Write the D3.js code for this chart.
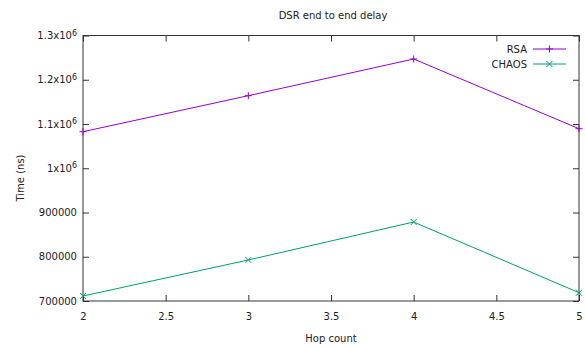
<!DOCTYPE html>
<html>
<head>
<meta charset="utf-8">
<script src="https://cdn.jsdelivr.net/npm/d3@7"></script>
<style>
  html, body { margin: 0; padding: 0; background: #fff; }
  svg { display: block; }
  text { font-family: "DejaVu Sans", Verdana, sans-serif; fill: #222; }
</style>
</head>
<body>
<svg id="chart" width="585" height="349"></svg>
<script>
// Hop counts on the x axis
const hops = [2, 3, 4, 5];
// End-to-end delay (ns) for each routing variant
const rsaDelay = [1082600, 1164000, 1246900, 1089400];
const chaosDelay = [711300, 792700, 878500, 718800];
// Axis ticks
const xTicks = [2, 2.5, 3, 3.5, 4, 4.5, 5];
const yTicks = [700000, 800000, 900000, 1000000, 1100000, 1200000, 1300000];

const series = [
  { name: "RSA", values: rsaDelay, color: "#9400d3", mark: "plus" },
  { name: "CHAOS", values: chaosDelay, color: "#009e73", mark: "cross" }
];

const svg = d3.select("#chart");
const m = { left: 83, right: 579, top: 35.5, bottom: 301 };

const x = d3.scaleLinear().domain([2, 5]).range([m.left, m.right]);
const y = d3.scaleLinear().domain([700000, 1300000]).range([m.bottom, m.top]);

// Y tick label: plain integers below a million, a x10^6 form above
function yLabel(sel) {
  sel.each(function(d) {
    const t = d3.select(this).text(null);
    if (d >= 1000000) {
      const mant = d / 1000000;
      const s = Number.isInteger(mant) ? "1" : mant.toFixed(1);
      t.append("tspan").text(s + "x10");
      t.append("tspan").attr("dy", "-0.45em").attr("font-size", "8px").text("6");
    } else {
      t.text(d);
    }
  });
}

// Bottom axis with inward ticks
const gx = svg.append("g").attr("transform", `translate(0,${m.bottom})`)
  .call(d3.axisBottom(x).tickValues(xTicks).tickSizeInner(-6).tickSizeOuter(0).tickPadding(12)
    .tickFormat(d3.format("")));
// Top mirror ticks
const gxt = svg.append("g").attr("transform", `translate(0,${m.top})`)
  .call(d3.axisTop(x).tickValues(xTicks).tickSizeInner(-6).tickSizeOuter(0).tickFormat(""));
// Left axis
const gy = svg.append("g").attr("transform", `translate(${m.left},0)`)
  .call(d3.axisLeft(y).tickValues(yTicks).tickSizeInner(-6).tickSizeOuter(0).tickPadding(6));
gy.selectAll(".tick text").call(yLabel);
// Right mirror ticks
const gyr = svg.append("g").attr("transform", `translate(${m.right},0)`)
  .call(d3.axisRight(y).tickValues(yTicks).tickSizeInner(-6).tickSizeOuter(0).tickFormat(""));

[gx, gxt, gy, gyr].forEach(g => {
  g.select(".domain").remove();
  g.selectAll(".tick line").attr("stroke", "#333");
  g.selectAll(".tick text").attr("font-size", "10px").attr("fill", "#222")
    .attr("font-family", "'DejaVu Sans', Verdana, sans-serif");
});

// Plot border
svg.append("rect")
  .attr("x", m.left).attr("y", m.top)
  .attr("width", m.right - m.left).attr("height", m.bottom - m.top)
  .attr("fill", "none").attr("stroke", "#333").attr("stroke-width", 1);

// Point markers
function drawMark(g, type, cx, cy, color) {
  const r = 3.5;
  if (type === "plus") {
    g.append("path").attr("d", `M${cx - r},${cy}H${cx + r}M${cx},${cy - r}V${cy + r}`)
      .attr("stroke", color).attr("stroke-width", 1).attr("fill", "none");
  } else {
    const q = 3;
    g.append("path").attr("d", `M${cx - q},${cy - q}L${cx + q},${cy + q}M${cx - q},${cy + q}L${cx + q},${cy - q}`)
      .attr("stroke", color).attr("stroke-width", 1).attr("fill", "none");
  }
}

const line = d3.line().x((d, i) => x(hops[i])).y(d => y(d));

series.forEach(s => {
  const g = svg.append("g");
  g.append("path").datum(s.values).attr("d", line)
    .attr("fill", "none").attr("stroke", s.color).attr("stroke-width", 1);
  s.values.forEach((v, i) => drawMark(g, s.mark, x(hops[i]), y(v), s.color));
});

// Legend
series.forEach((s, i) => {
  const ly = 49 + i * 15;
  svg.append("text").attr("x", 527).attr("y", ly).attr("dy", "0.35em")
    .attr("text-anchor", "end").attr("font-size", "10px").text(s.name);
  svg.append("line").attr("x1", 533).attr("x2", 566).attr("y1", ly).attr("y2", ly)
    .attr("stroke", s.color).attr("stroke-width", 1);
  drawMark(svg, s.mark, 549.5, ly, s.color);
});

// Titles
svg.append("text").attr("x", 333).attr("y", 15).attr("dy", "0.35em")
  .attr("text-anchor", "middle").attr("font-size", "10px").text("DSR end to end delay");
svg.append("text").attr("x", 331).attr("y", 338).attr("dy", "0.35em")
  .attr("text-anchor", "middle").attr("font-size", "10px").text("Hop count");
svg.append("text").attr("transform", "translate(20,178) rotate(-90)").attr("dy", "0.35em")
  .attr("text-anchor", "middle").attr("font-size", "10px").text("Time (ns)");
</script>
</body>
</html>
